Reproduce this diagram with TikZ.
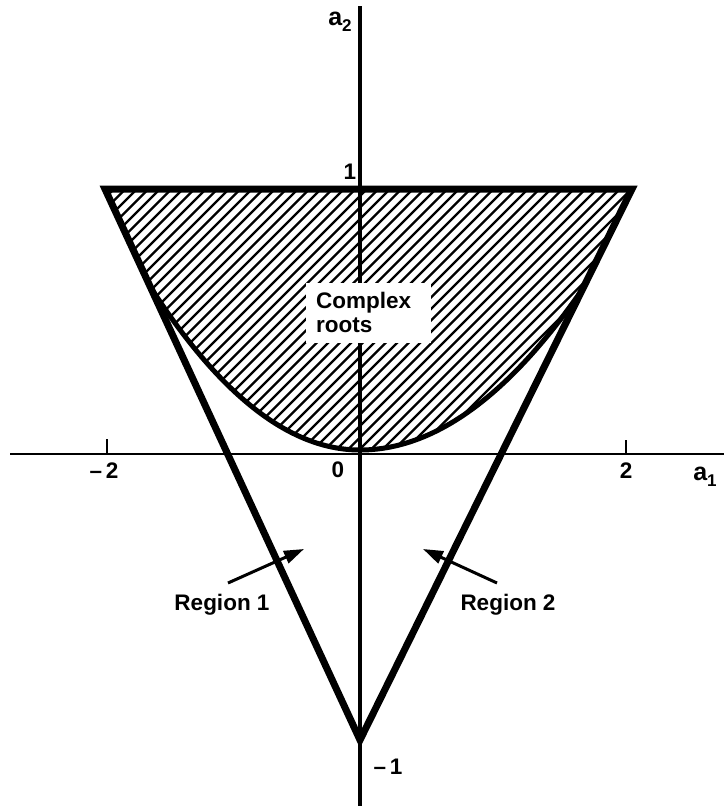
\documentclass[tikz,border=0pt]{standalone}
\usepackage{fontspec}
\setmainfont{Liberation Sans}
\usetikzlibrary{arrows.meta}
\newcommand{\axsub}[1]{\raisebox{-6pt}{\fontsize{17}{20}\selectfont #1}}
\begin{document}
\begin{tikzpicture}[x=1pt,y=-1pt,
  axisline/.style={line width=2.7pt,line cap=butt},
  yaxisline/.style={line width=3.6pt},
  sideline/.style={line width=7pt,line join=miter},
  parab/.style={line width=5pt},
  hatchline/.style={line width=2.4pt},
  lbl/.style={font=\fontsize{22.5}{25}\selectfont\bfseries,inner sep=0pt},
  axlbl/.style={font=\fontsize{25}{28}\selectfont\bfseries,inner sep=0pt},
  ptr/.style={line width=3pt,-{Triangle[length=20pt,width=13pt]}}]
\useasboundingbox (0,0) rectangle (724,806);
% key points
\coordinate (TL) at (105,189);
\coordinate (TR) at (632,189);
\coordinate (B) at (360,740);
\coordinate (Ytop) at (360,6);
\coordinate (Ybot) at (360,806);
\coordinate (Xl) at (10,454);
\coordinate (Xr) at (724,454);
% hatching
\begin{scope}
\path[clip] (TL) -- (TR) -- (582,290)
  -- plot[domain=2.22:0,samples=40] ({360+100*\x},{450-32.5*\x*\x})
  -- plot[domain=0:-2.11,samples=40] ({360+100*\x},{450-37.1*\x*\x}) -- cycle;
\foreach \c in {280,291.5,...,1110}
  \draw[hatchline] (\c-170,170) -- (\c-470,470);
\end{scope}
% axes
\draw[axisline] (Xl) -- (Xr);
\draw[yaxisline] (Ytop) -- (Ybot);
\coordinate (Tm2a) at (107,439); \coordinate (Tm2b) at (107,454);
\coordinate (Tp2a) at (626,440); \coordinate (Tp2b) at (626,454);
\draw[line width=2.2pt] (Tm2a) -- (Tm2b);
\draw[line width=2.2pt] (Tp2a) -- (Tp2b);
% parabola
\draw[parab] plot[domain=-2.11:0,samples=50] ({360+100*\x},{450-37.1*\x*\x})
  -- plot[domain=0:2.22,samples=50] ({360+100*\x},{450-32.5*\x*\x});
% triangle
\draw[sideline] (TL) -- (TR) -- (B) -- cycle;
% complex roots box
\node[fill=white,minimum width=125pt,minimum height=60pt,inner sep=0pt] (box) at (368,313) {};
\node[lbl,anchor=west,align=left] (cr) at (316,312) {Complex\\[-1pt]roots};
% labels
\node[lbl] (am2) at (104,471) {\textendash\,2};
\node[lbl] (ap2) at (626,471) {2};
\node[lbl] (azero) at (338,470) {0};
\node[lbl] (aone) at (350,172) {1};
\node[lbl] (amone) at (388,767) {\textendash\,1};
\node[axlbl] (aa1) at (705,477) {a\axsub{1}};
\node[axlbl] (aa2) at (340,22) {a\axsub{2}};
\node[lbl] (r1) at (222,605) {Region 1};
\node[lbl] (r2) at (508,605) {Region 2};
% pointers
\coordinate (p1s) at (228,583); \coordinate (p1e) at (304,549);
\coordinate (p2s) at (497,583); \coordinate (p2e) at (423,549);
\draw[ptr] (p1s) -- (p1e);
\draw[ptr] (p2s) -- (p2e);
\end{tikzpicture}
\end{document}
